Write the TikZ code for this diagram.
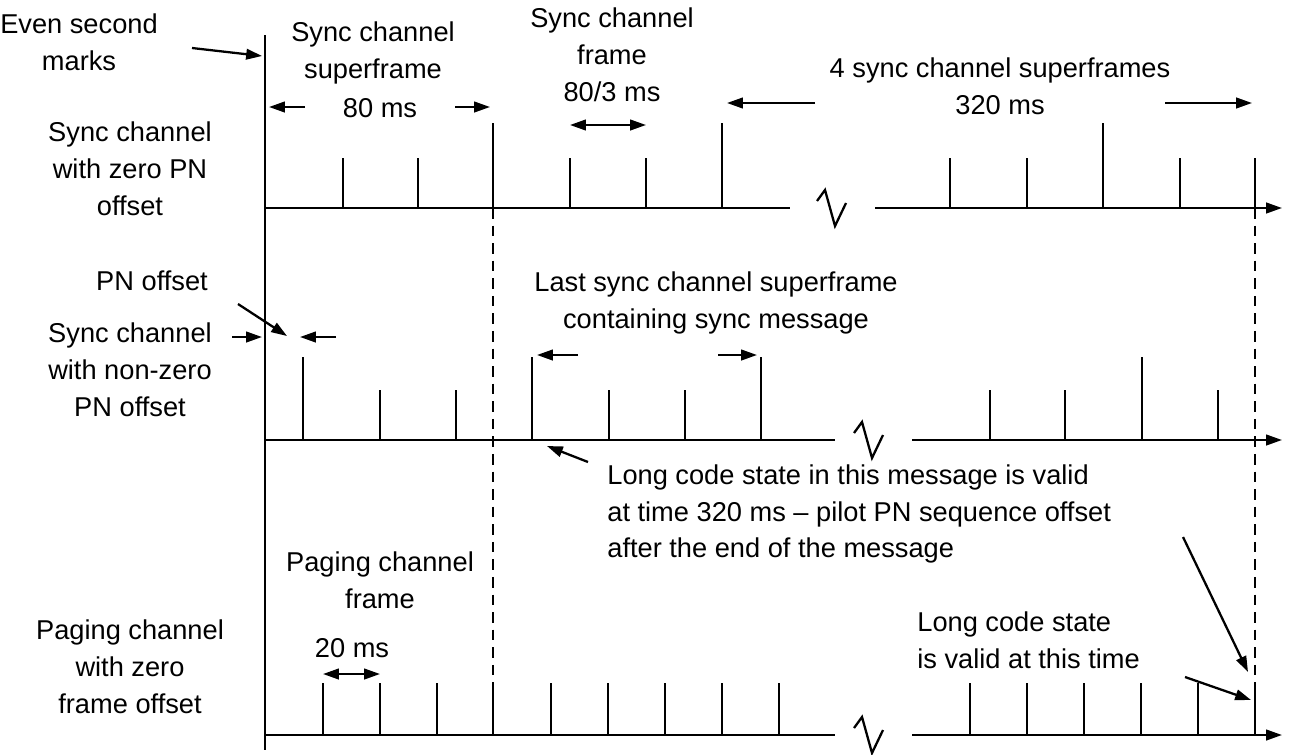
\documentclass[tikz,border=0pt]{standalone}
\usepackage{fontspec}
\setmainfont{Liberation Sans}
\usetikzlibrary{arrows.meta}
\begin{document}
\begin{tikzpicture}[x=0.02cm,y=-0.02cm,
  txt/.style={font=\fontsize{15.5}{21}\selectfont,inner sep=0pt,align=center},
  ln/.style={line width=1.3pt},
  ar/.style={line width=1.3pt,-{Triangle[length=9pt,width=6pt]}},
  dar/.style={line width=1.3pt,{Triangle[length=9pt,width=6pt]}-{Triangle[length=9pt,width=6pt]}},
  brk/.style={line width=1.3pt}]
\useasboundingbox (0,0) rectangle (1300,754);
% main vertical
\draw[ln] (265,35) -- (265,750);
% axis 1
\draw[ln] (265,208) -- (790,208);
\draw[ar] (875,208) -- (1282,208);
\draw[brk] (817,201) -- (825,190) -- (835,226) -- (846,203);
\foreach \x in {343,418,570,646,950,1027,1180,1255} \draw[ln] (\x,208) -- (\x,158);
\foreach \x in {493,722,1103} \draw[ln] (\x,208) -- (\x,123);
% axis 2
\draw[ln] (265,440) -- (835,440);
\draw[ar] (912,440) -- (1282,440);
\draw[brk] (854,433) -- (862,422) -- (872,458) -- (883,435);
\foreach \x in {380,456,609,685,990,1065,1218} \draw[ln] (\x,440) -- (\x,390);
\foreach \x in {303,532,761,1142} \draw[ln] (\x,440) -- (\x,357);
% axis 3
\draw[ln] (265,735) -- (835,735);
\draw[ar] (912,735) -- (1282,735);
\draw[brk] (854,728) -- (862,717) -- (872,753) -- (883,730);
\foreach \x in {323,380,437,493,551,608,665,722,779,970,1027,1084,1141,1198,1255} \draw[ln] (\x,735) -- (\x,683);
% dashed
\draw[line width=1pt,dash pattern=on 6pt off 4pt] (493,208) -- (493,683);
\draw[line width=1pt,dash pattern=on 6pt off 4pt] (1255,208) -- (1255,683);
% texts
\node[txt] (esm) at (79,42) {Even second\\marks};
\draw[ar] (192,48) -- (262,56);
\node[txt] (scs) at (373,53) {Sync channel\\superframe};
\node[txt] (e80) at (380,108) {80 ms};
\draw[ar] (305,107) -- (269,107);
\draw[ar] (455,107) -- (490,107);
\node[txt] (scf) at (612,55) {Sync channel\\frame\\80/3 ms};
\draw[dar] (570,125) -- (646,125);
\node[txt] (four) at (1000,86) {4 sync channel superframes\\320 ms};
\draw[ar] (815,103) -- (727,103);
\draw[ar] (1165,103) -- (1252,103);
\node[txt] (l1) at (130,169) {Sync channel\\with zero PN\\offset};
\node[txt] (pno) at (152,281) {PN offset};
\draw[ar] (238,304) -- (287,336);
\draw[ar] (232,337) -- (262,337);
\draw[ar] (336,337) -- (300,337);
\node[txt] (l2) at (130,370) {Sync channel\\with non-zero\\PN offset};
\node[txt] (last) at (716,303) {Last sync channel superframe\\containing sync message};
\draw[ar] (578,355) -- (537,355);
\draw[ar] (718,355) -- (757,355);
\draw[ar] (588,462) -- (547,446);
\node[txt,align=left,anchor=west] (lcs) at (607,514) {Long code state in this message is valid\\at time 320 ms -- pilot PN sequence offset\\after the end of the message};
\draw[ar] (1183,537) -- (1248,672);
\node[txt] (pcf) at (380,580) {Paging channel\\frame};
\node[txt] (p20) at (352,648) {20 ms};
\draw[dar] (323,674) -- (380,674);
\node[txt] (l3) at (130,667) {Paging channel\\with zero\\frame offset};
\node[txt,align=left,anchor=west] (lcv) at (917,640) {Long code state\\is valid at this time};
\draw[ar] (1185,677) -- (1251,700);
\end{tikzpicture}
\end{document}
